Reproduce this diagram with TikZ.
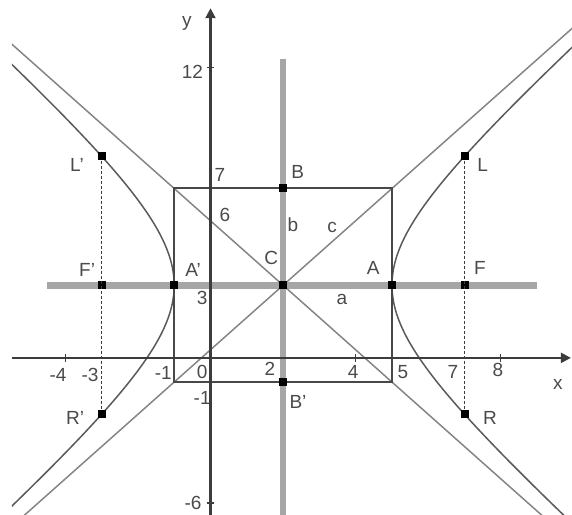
\documentclass[tikz,border=0pt]{standalone}
\usepackage{fontspec}
\setmainfont{Liberation Sans}
\usetikzlibrary{arrows.meta}
\definecolor{axiscol}{HTML}{3C3C3C}
\definecolor{boxcol}{HTML}{484848}
\definecolor{thickgray}{HTML}{A6A6A6}
\definecolor{asymcol}{HTML}{858585}
\definecolor{hypcol}{HTML}{5A5A5A}
\definecolor{txtcol}{HTML}{4A4A4A}
\tikzset{
  pt/.style={rectangle,fill=black,minimum size=4pt,inner sep=0pt},
  lbl/.style={text=txtcol,inner sep=0pt,font=\fontsize{9.5}{10}\selectfont},
  axisline/.style={draw=axiscol,line width=1.1pt},
  boxline/.style={draw=boxcol,line width=1pt},
  guide/.style={draw=thickgray,line width=3.4pt},
  asym/.style={draw=asymcol,line width=0.75pt},
  hyp/.style={draw=hypcol,line width=0.75pt},
  latus/.style={draw=axiscol,line width=0.8pt,dash pattern=on 1.5pt off 1pt},
  tick/.style={draw=axiscol,line width=0.6pt}
}
\begin{document}
\begin{tikzpicture}[x=18.15pt,y=12.1pt]
\useasboundingbox (-5.8,-6.49) rectangle (9.96,14.79);
% guide lines
\coordinate (hl) at (-4.5,3);
\coordinate (hr) at (9.0,3);
\coordinate (vt) at (2,12.36);
\coordinate (vb) at (2,-6.49);
\draw[guide] (hl) -- (hr);
\draw[guide] (vt) -- (vb);
% asymptotes and hyperbola
\begin{scope}
\clip (-5.47,-6.49) rectangle (9.96,14.79);
\coordinate (a1s) at (-6.5,14.333);
\coordinate (a1e) at (11.5,-9.667);
\coordinate (a2s) at (-6.5,-8.333);
\coordinate (a2e) at (11.5,15.667);
\draw[asym] (a1s) -- (a1e);
\draw[asym] (a2s) -- (a2e);
\draw[hyp] plot[domain=-1.8:1.8,samples=80,smooth,variable=\t]
  ({2-3*cosh(\t)},{3+4*sinh(\t)});
\draw[hyp] plot[domain=-1.8:1.8,samples=80,smooth,variable=\t]
  ({2+3*cosh(\t)},{3+4*sinh(\t)});
\end{scope}
% box
\coordinate (bl) at (-1,-1);
\coordinate (tr) at (5,7);
\draw[boxline] (bl) rectangle (tr);
% axes
\coordinate (xs) at (-5.47,0);
\coordinate (xe) at (9.93,0);
\coordinate (ys) at (0,-6.49);
\coordinate (ye) at (0,14.45);
\draw[axisline,-{Triangle[length=5pt,width=5pt]}] (xs) -- (xe);
\draw[axisline,-{Triangle[length=5pt,width=5pt]}] (ys) -- (ye);
\foreach \i in {-4,4,8}{\draw[tick] (\i,-0.17) -- (\i,0.17);}
\foreach \j in {12,-6}{\draw[tick] (-0.11,\j) -- (0.11,\j);}
% points
\node[pt] (Lp) at (-3,8.333) {};
\node[pt] (L) at (7,8.333) {};
\node[pt] (B) at (2,7) {};
\node[pt] (Fp) at (-3,3) {};
\node[pt] (Ap) at (-1,3) {};
\node[pt] (C) at (2,3) {};
\node[pt] (A) at (5,3) {};
\node[pt] (F) at (7,3) {};
\node[pt] (Rp) at (-3,-2.333) {};
\node[pt] (R) at (7,-2.333) {};
\node[pt] (Bp) at (2,-1) {};
% latus rectum lines
\draw[latus] (Lp) -- (Rp);
\draw[latus] (L) -- (R);
% labels
\node[lbl] (ly) at (-0.65,13.84) {y};
\node[lbl] (l12) at (-0.5,11.8) {12};
\node[lbl] (l7y) at (0.26,7.56) {7};
\node[lbl] (l6) at (0.4,5.9) {6};
\node[lbl] (l3) at (-0.23,2.48) {3};
\node[lbl] (lb) at (2.27,5.5) {b};
\node[lbl] (lc) at (3.35,5.37) {c};
\node[lbl] (lC) at (1.67,4.13) {C};
\node[lbl] (lB) at (2.4,7.69) {B};
\node[lbl] (lAp) at (-0.48,3.64) {A'};
\node[lbl] (lA) at (4.48,3.72) {A};
\node[lbl] (lFp) at (-3.4,3.64) {F'};
\node[lbl] (lF) at (7.42,3.72) {F};
\node[lbl] (lLp) at (-3.68,7.98) {L'};
\node[lbl] (lL) at (7.5,7.98) {L};
\node[lbl] (la) at (3.62,2.4) {a};
\node[lbl] (lm1x) at (-1.3,-0.62) {-1};
\node[lbl] (l0) at (-0.23,-0.58) {0};
\node[lbl] (l2) at (1.64,-0.45) {2};
\node[lbl] (lm1y) at (-0.23,-1.65) {-1};
\node[lbl] (lBp) at (2.41,-1.82) {B'};
\node[lbl] (lm4) at (-4.2,-0.7) {-4};
\node[lbl] (lm3) at (-3.32,-0.7) {-3};
\node[lbl] (lm6) at (-0.48,-6.0) {-6};
\node[lbl] (lRp) at (-3.73,-2.48) {R'};
\node[lbl] (l4) at (3.93,-0.58) {4};
\node[lbl] (l5) at (5.3,-0.58) {5};
\node[lbl] (l7x) at (6.68,-0.58) {7};
\node[lbl] (l8) at (7.92,-0.5) {8};
\node[lbl] (lx) at (9.57,-1.1) {x};
\node[lbl] (lR) at (7.7,-2.48) {R};
\end{tikzpicture}
\end{document}
